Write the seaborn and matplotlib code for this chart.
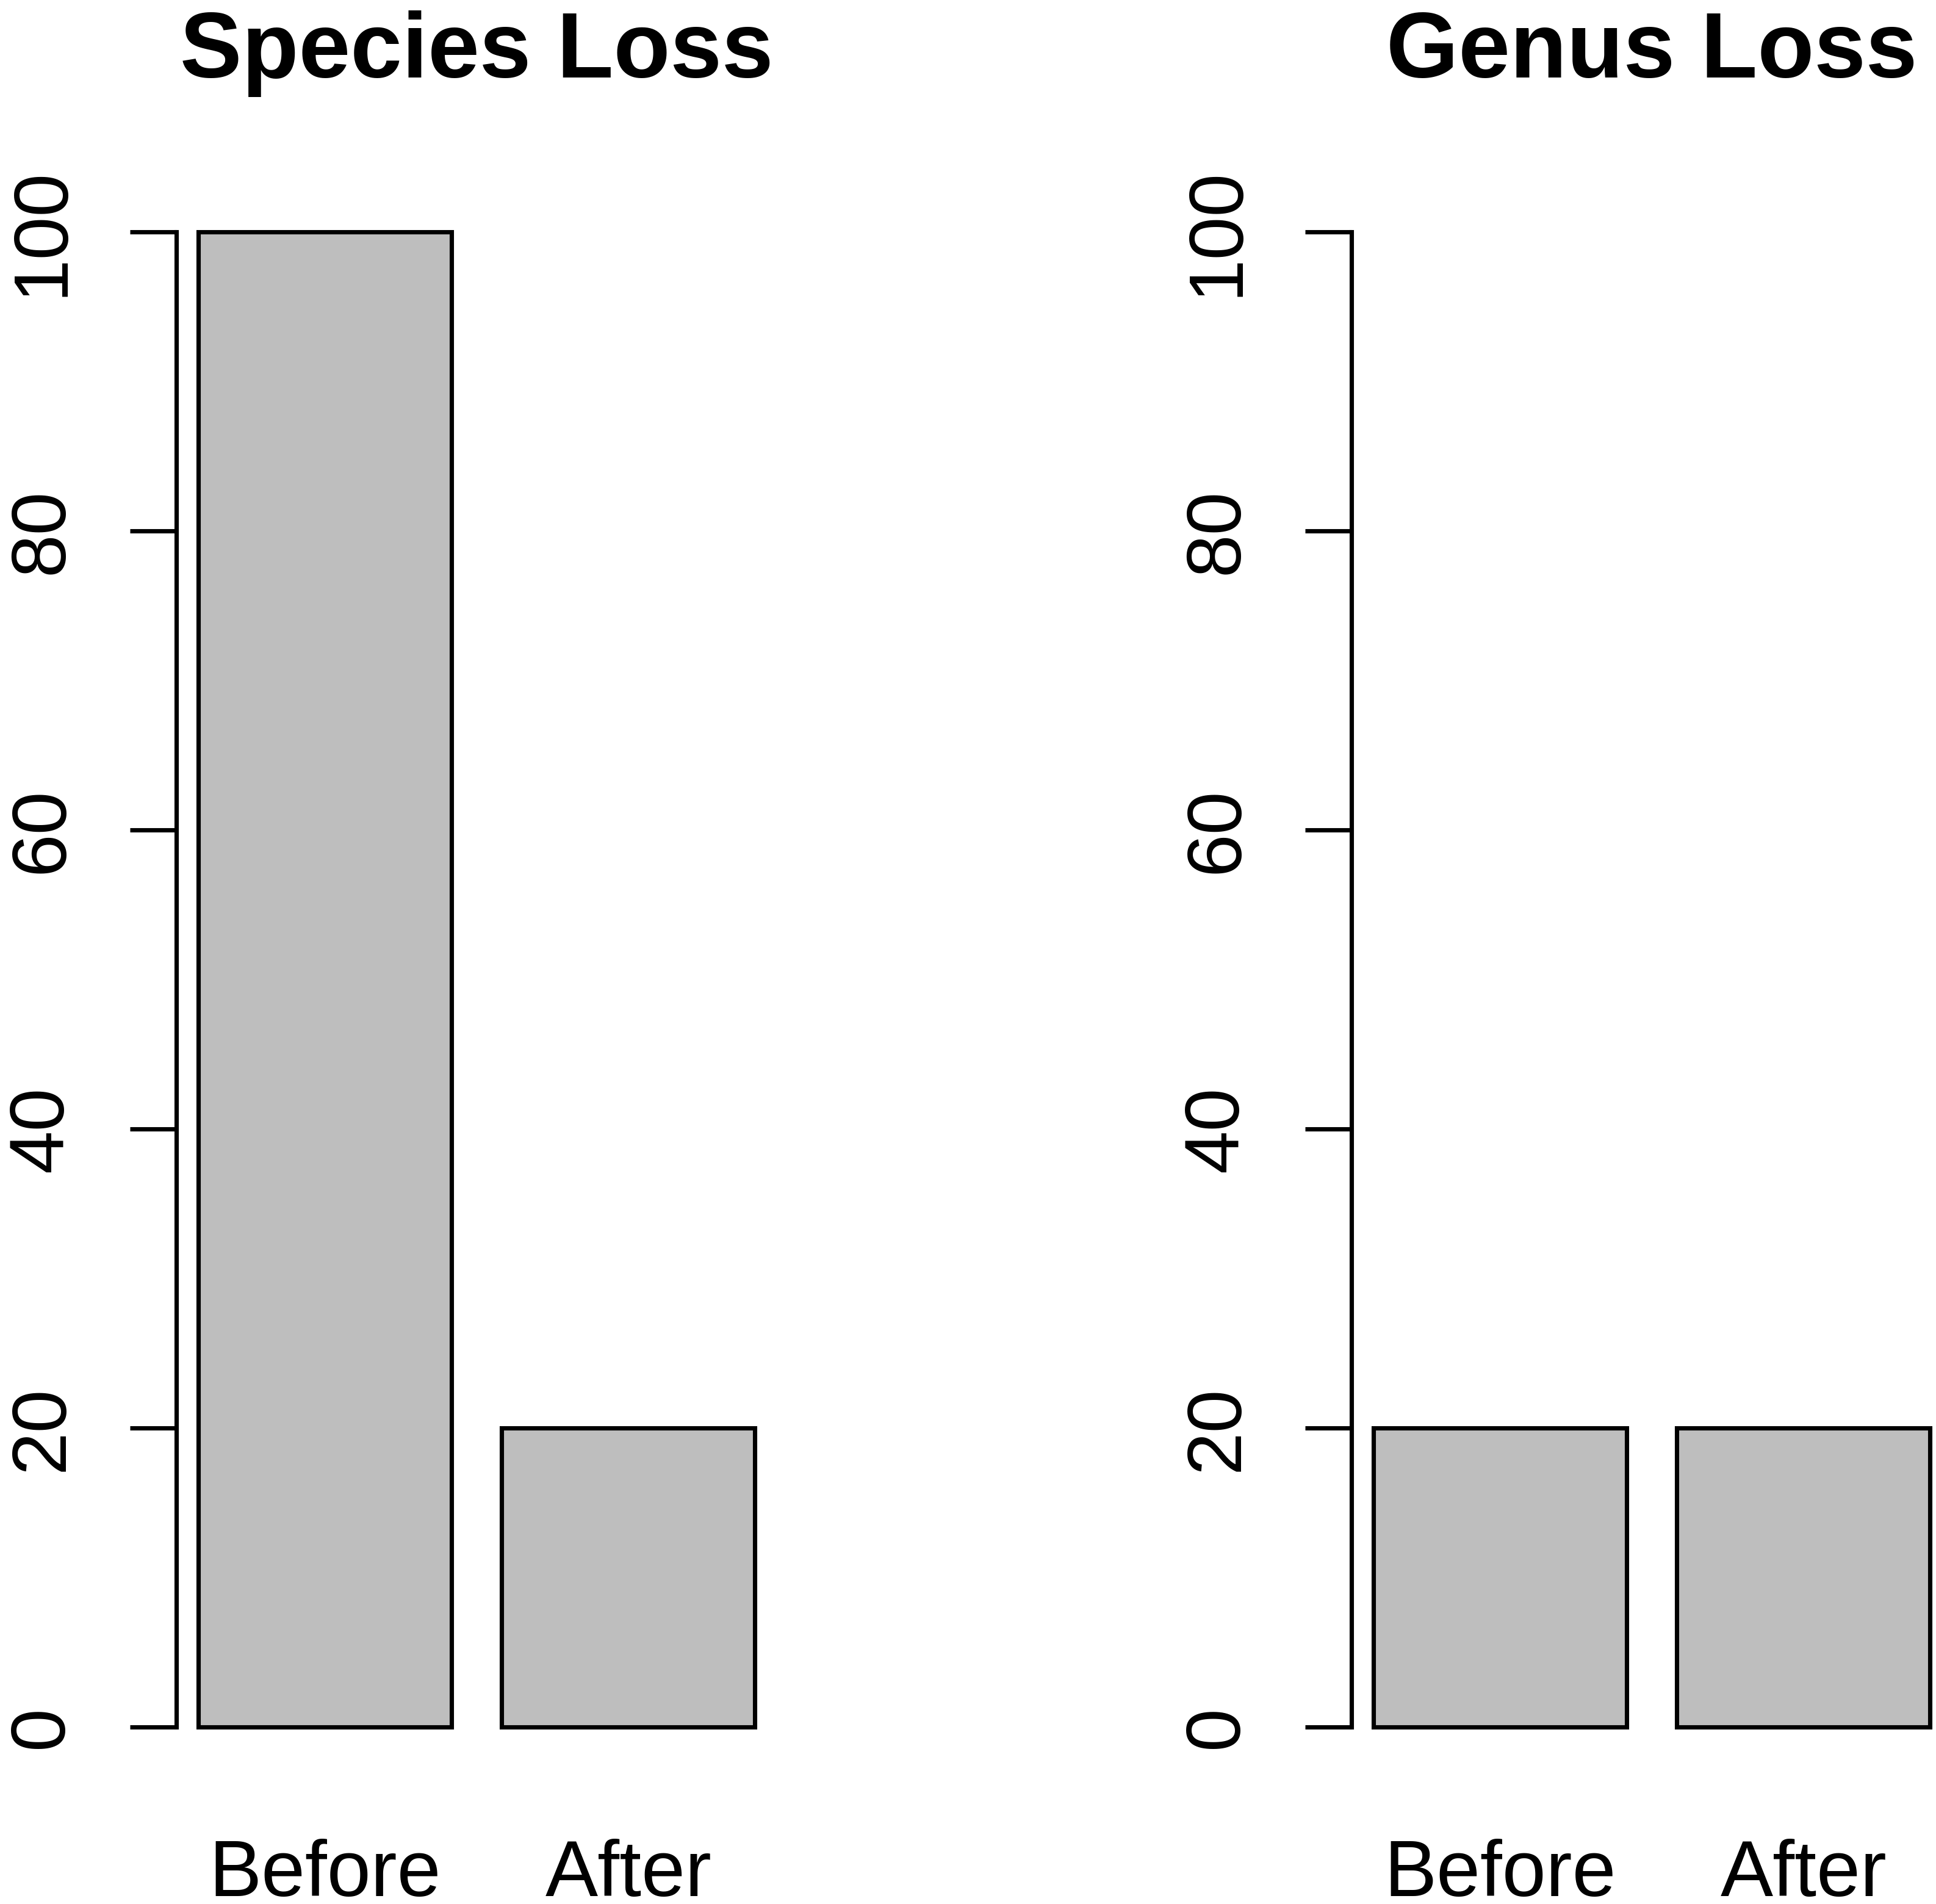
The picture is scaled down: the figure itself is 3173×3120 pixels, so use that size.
import matplotlib
matplotlib.use("Agg")
import matplotlib.pyplot as plt
import seaborn as sns

# ── data ──────────────────────────────────────────────────────────────────────
categories = ["Before", "After"]
species_loss = [100, 20]
genus_loss = [20, 20]
y_ticks = [0, 20, 40, 60, 80, 100]

panels = [("Species Loss", species_loss), ("Genus Loss", genus_loss)]

# ── style ─────────────────────────────────────────────────────────────────────
sns.set_style("ticks")
plt.rcParams["font.family"] = ["Liberation Sans", "DejaVu Sans"]
plt.rcParams.update({"text.color": "black", "axes.edgecolor": "black",
                     "xtick.color": "black", "ytick.color": "black",
                     "axes.labelcolor": "black"})

W, H, DPI = 3173, 3120, 300
fig = plt.figure(figsize=(W / DPI, H / DPI), dpi=DPI)

ax_w = 985 / W
ax_b = 1 - 2928 / H
ax_h = 2646 / H
lefts = [288.5 / W, 2214.5 / W]

lw = 1.7
fs = 30.5
for left, (title, vals) in zip(lefts, panels):
    ax = fig.add_axes([left, ax_b, ax_w, ax_h])
    sns.barplot(x=categories, y=vals, ax=ax, color="#BEBEBE", saturation=1,
                edgecolor="black", linewidth=lw, width=1 / 1.2)
    ax.set_xlim(-0.49, 1.49)
    ax.set_ylim(-4, 104)
    ax.set_yticks(y_ticks)
    ax.set_yticklabels([str(t) for t in y_ticks])
    for lbl in ax.get_yticklabels():
        lbl.set_rotation(90)
        lbl.set_rotation_mode("anchor")
        lbl.set_ha("center")
        lbl.set_va("baseline")
    for lbl in ax.get_xticklabels():
        lbl.set_va("baseline")
    ax.tick_params(axis="y", length=18.2, width=lw, pad=26.5, labelsize=fs,
                   direction="out")
    ax.tick_params(axis="x", length=0, pad=43, labelsize=fs + 0.5)
    ax.set_xlabel("")
    ax.set_ylabel("")
    sns.despine(ax=ax, bottom=True)
    ax.spines["left"].set_bounds(0, 100)
    ax.spines["left"].set_linewidth(lw)
    ax.set_title(title, fontsize=36.5, fontweight="bold", pad=37.2)

fig.savefig("out.png", dpi=DPI, facecolor="white")
